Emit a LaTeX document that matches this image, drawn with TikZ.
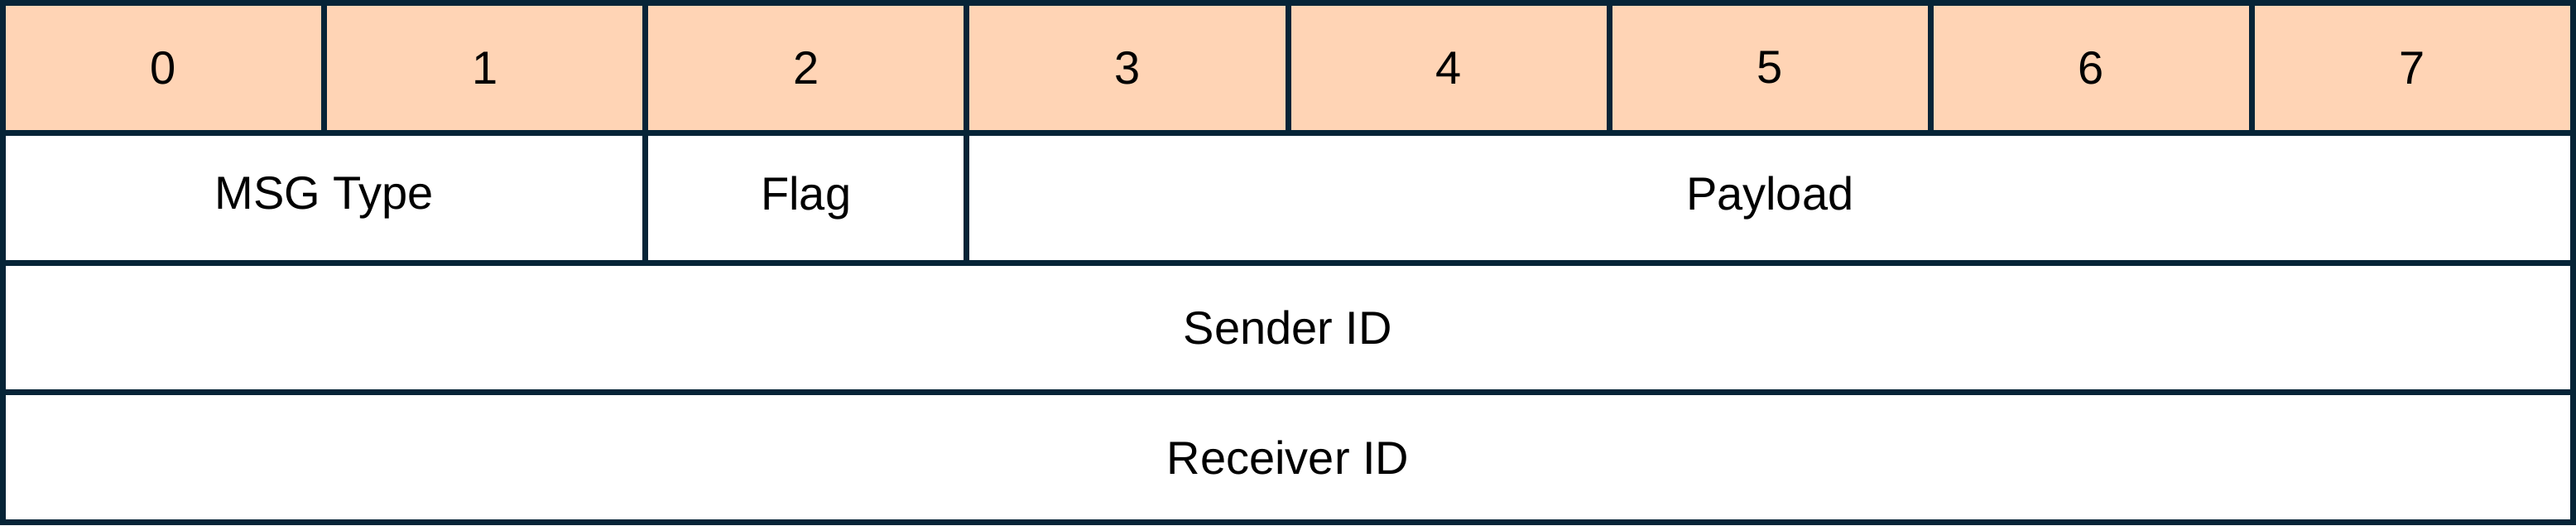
\documentclass[tikz,border=0pt]{standalone}
\usepackage{fontspec}
\setmainfont{Liberation Sans}
\definecolor{edge}{HTML}{062437}
\definecolor{peach}{HTML}{FFD4B5}
\begin{document}
\begin{tikzpicture}[
  cell/.style={draw=edge, line width=1.75pt, rectangle, anchor=north west,
    inner sep=0pt, outer sep=0pt, minimum height=39.1875pt,
    font=\fontsize{14pt}{16pt}\selectfont, text=black},
  head/.style={cell, fill=peach, minimum width=97.03pt},
  body/.style={cell, fill=white}
]
\useasboundingbox (0,0) rectangle (778pt,158.5pt);
\def\xo{0.875pt}
\def\yo{157.625pt}
\foreach \i in {0,...,7} {
  \node[head] (h\i) at ({\xo+\i*97.03pt},\yo) {\i};
}
\node[body, minimum width=194.06pt] (msg) at (\xo,{\yo-39.1875pt}) {MSG Type};
\node[body, minimum width=97.03pt] (flag) at ({\xo+194.06pt},{\yo-39.1875pt}) {Flag};
\node[body, minimum width=485.15pt] (payload) at ({\xo+291.09pt},{\yo-39.1875pt}) {Payload};
\node[body, minimum width=776.24pt] (sender) at (\xo,{\yo-78.375pt}) {Sender ID};
\node[body, minimum width=776.24pt] (receiver) at (\xo,{\yo-117.5625pt}) {Receiver ID};
\end{tikzpicture}
\end{document}
